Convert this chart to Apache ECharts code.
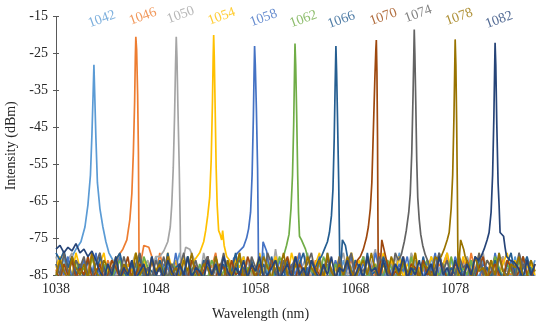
<!DOCTYPE html>
<html>
<head>
<meta charset="utf-8">
<script src="https://cdn.jsdelivr.net/npm/echarts@6/dist/echarts.min.js"></script>
<style>
  html, body { margin: 0; padding: 0; background: #fff; }
  #chart { width: 537px; height: 323px; }
</style>
</head>
<body>
<div id="chart"></div>
<script>
// channel names (nominal wavelength, nm) and Excel-like colours
const channels = ['1042', '1046', '1050', '1054', '1058', '1062', '1066', '1070', '1074', '1078', '1082'];
const colors = ['#5b9bd5', '#ed7d31', '#a5a5a5', '#ffc000', '#4472c4', '#70ad47',
                '#255e91', '#9e480e', '#636363', '#997300', '#264478'];
const xTicks = [1038, 1048, 1058, 1068, 1078];
const yTicks = [-85, -75, -65, -55, -45, -35, -25, -15];

// noise floor, sampled every 0.4 nm from 1038 nm (dBm)
const noiseStart = 1038;
const noiseStep = 0.4;
const n1042 = [-82,-85,-80,-86,-83,-84,-81,-86,-79,-84,-86,-82, -85,-81,-86,-83,-80,-85,-86,-82,-84,-86,-81,-83,
  -86,-80,-84,-85,-82,-86,-83,-79,-85,-86,-81,-84, -83,-86,-80,-85,-82,-84,-86,-81,-83,-85,-86,-80,
  -84,-82,-86,-83,-79,-85,-81,-86,-84,-82,-85,-86, -80,-83,-86,-84,-81,-85,-82,-86,-79,-84,-83,-86,
  -81,-85,-86,-82,-84,-80,-86,-83,-85,-81,-86,-84, -82,-86,-79,-83,-85,-86,-81,-84,-82,-86,-80,-85,
  -83,-86,-84,-81,-85,-82,-86,-80,-84,-83,-86,-81, -85,-82,-86,-79,-84,-83,-86,-80,-85,-82,-86,-84, -81];
const n1046 = [-84,-81,-86,-83,-80,-85,-82,-86,-84,-79,-85,-83, -86,-81,-84,-82,-86,-80,-85,-83,-86,-84,-81,-85,
  -82,-86,-79,-84,-83,-86,-81,-85,-80,-86,-84,-82, -85,-86,-81,-83,-79,-86,-84,-82,-85,-80,-86,-83,
  -81,-85,-86,-82,-84,-80,-86,-83,-85,-81,-84,-86, -82,-79,-85,-83,-86,-81,-84,-86,-80,-85,-82,-84,
  -86,-83,-81,-85,-86,-80,-84,-82,-86,-79,-85,-83, -81,-86,-84,-82,-85,-80,-86,-83,-84,-81,-86,-85,
  -82,-84,-80,-86,-83,-85,-81,-86,-79,-84,-82,-86, -85,-81,-83,-86,-80,-84,-85,-82,-86,-83,-81,-85, -84];
const n1050 = [-80,-84,-86,-81,-79,-85,-83,-86,-80,-84,-82,-79, -86,-83,-81,-85,-80,-84,-86,-82,-79,-85,-83,-81,
  -86,-80,-84,-82,-78,-85,-86,-81,-83,-80,-85,-82, -86,-79,-84,-81,-85,-83,-80,-86,-82,-84,-79,-85,
  -81,-86,-83,-80,-84,-82,-86,-78,-85,-81,-83,-86, -80,-84,-82,-79,-85,-86,-81,-83,-80,-84,-86,-82,
  -79,-85,-83,-81,-86,-80,-84,-82,-78,-85,-86,-81, -83,-80,-85,-84,-86,-79,-82,-85,-81,-86,-83,-80,
  -84,-82,-79,-86,-85,-81,-83,-80,-86,-84,-82,-79, -85,-83,-86,-81,-80,-84,-82,-86,-79,-85,-83,-81, -86];
const n1054 = [-83,-80,-84,-82,-85,-79,-83,-81,-86,-80,-84,-82, -79,-85,-81,-83,-80,-86,-82,-84,-79,-83,-81,-85,
  -80,-84,-82,-86,-79,-83,-81,-84,-80,-85,-82,-79, -84,-81,-86,-80,-83,-82,-85,-79,-84,-81,-83,-80,
  -86,-82,-84,-79,-85,-81,-83,-80,-84,-82,-86,-79, -83,-81,-85,-80,-84,-82,-79,-86,-83,-81,-84,-80,
  -85,-82,-79,-83,-81,-86,-80,-84,-82,-85,-79,-83, -81,-84,-80,-86,-82,-83,-79,-85,-81,-84,-80,-83,
  -86,-82,-79,-84,-81,-85,-80,-83,-82,-86,-79,-84, -81,-83,-80,-85,-82,-79,-84,-81,-86,-80,-83,-82, -85];
const n1058 = [-86,-82,-85,-80,-86,-83,-84,-81,-86,-85,-79,-86, -83,-82,-86,-84,-80,-86,-85,-81,-86,-83,-84,-86,
  -80,-85,-86,-82,-83,-86,-79,-85,-84,-86,-81,-83, -86,-85,-80,-86,-82,-84,-86,-81,-85,-86,-83,-79,
  -86,-84,-82,-86,-80,-85,-83,-86,-81,-84,-86,-82, -85,-79,-86,-83,-84,-86,-80,-85,-82,-86,-81,-84,
  -86,-83,-80,-86,-85,-82,-84,-86,-79,-83,-86,-81, -85,-86,-82,-84,-80,-86,-83,-85,-86,-81,-84,-79,
  -86,-82,-85,-86,-80,-83,-84,-86,-81,-85,-86,-82, -83,-86,-79,-84,-85,-86,-81,-83,-86,-80,-85,-84, -86];
const n1062 = [-85,-86,-82,-84,-86,-81,-85,-83,-86,-80,-84,-86, -82,-85,-86,-83,-81,-86,-84,-85,-82,-86,-80,-83,
  -86,-85,-81,-84,-86,-82,-83,-86,-85,-80,-84,-86, -82,-85,-86,-81,-83,-86,-84,-82,-86,-85,-80,-86,
  -83,-84,-86,-81,-85,-82,-86,-84,-80,-86,-83,-85, -86,-82,-81,-86,-84,-85,-86,-80,-83,-86,-82,-84,
  -86,-81,-85,-86,-83,-80,-86,-84,-82,-86,-85,-81, -83,-86,-84,-82,-86,-80,-85,-86,-83,-81,-86,-84,
  -85,-82,-86,-80,-84,-86,-83,-85,-81,-86,-82,-84, -86,-85,-80,-83,-86,-82,-84,-86,-81,-85,-86,-83, -84];
const n1066 = [-79,-81,-78.5,-83,-80,-85,-82,-86,-81,-84,-86,-80, -83,-86,-85,-81,-79,-84,-86,-82,-85,-80,-86,-83,
  -84,-86,-81,-85,-79,-86,-83,-82,-86,-80,-85,-84, -86,-81,-83,-86,-80,-85,-82,-86,-84,-79,-86,-83,
  -85,-81,-86,-84,-82,-86,-80,-85,-83,-86,-81,-84, -86,-82,-79,-85,-86,-83,-81,-86,-84,-80,-85,-86,
  -82,-84,-86,-81,-83,-86,-79,-85,-84,-86,-80,-83, -86,-82,-85,-81,-86,-84,-83,-86,-80,-85,-82,-86,
  -79,-84,-86,-83,-85,-81,-86,-82,-84,-86,-80,-85, -83,-86,-81,-84,-86,-82,-79,-85,-86,-83,-80,-84, -86];
const n1070 = [-84,-86,-82,-85,-81,-86,-83,-85,-80,-86,-84,-82, -86,-85,-81,-83,-86,-84,-80,-86,-85,-82,-84,-86,
  -81,-85,-83,-86,-80,-84,-86,-82,-85,-86,-81,-83, -86,-84,-80,-85,-86,-82,-83,-86,-81,-85,-84,-86,
  -80,-83,-86,-82,-85,-86,-81,-84,-86,-83,-80,-85, -86,-82,-84,-86,-81,-83,-85,-86,-80,-84,-86,-82,
  -85,-81,-86,-83,-84,-86,-80,-85,-82,-86,-83,-81, -86,-84,-85,-80,-86,-82,-83,-86,-81,-85,-84,-86,
  -80,-83,-86,-85,-82,-84,-86,-81,-85,-86,-83,-80, -86,-84,-82,-85,-86,-81,-83,-86,-84,-80,-85,-86, -82];
const n1074 = [-82,-85,-79,-84,-86,-81,-83,-80,-85,-86,-82,-79, -84,-86,-83,-81,-85,-80,-84,-86,-82,-79,-85,-83,
  -86,-81,-84,-80,-86,-82,-85,-83,-79,-86,-84,-81, -85,-82,-80,-86,-83,-84,-79,-85,-86,-82,-81,-84,
  -86,-80,-83,-85,-86,-79,-82,-84,-86,-81,-85,-83, -80,-86,-84,-82,-79,-85,-86,-83,-81,-84,-86,-80,
  -85,-82,-79,-86,-83,-84,-81,-85,-86,-80,-82,-84, -86,-79,-83,-85,-81,-86,-84,-80,-85,-82,-86,-83,
  -79,-84,-81,-86,-85,-80,-83,-82,-86,-84,-79,-85, -81,-83,-86,-80,-84,-85,-82,-86,-79,-83,-81,-85, -86];
const n1078 = [-85,-81,-84,-86,-80,-83,-85,-82,-86,-79,-84,-86, -81,-83,-85,-80,-86,-82,-84,-86,-79,-85,-83,-86,
  -81,-84,-82,-86,-80,-85,-83,-86,-81,-84,-79,-86, -85,-82,-83,-86,-80,-84,-86,-81,-85,-83,-79,-86,
  -84,-82,-85,-86,-80,-83,-86,-81,-84,-79,-85,-86, -82,-84,-86,-80,-83,-85,-81,-86,-79,-84,-86,-82,
  -85,-80,-84,-86,-83,-81,-85,-79,-84,-86,-82,-85, -80,-83,-86,-81,-84,-85,-79,-86,-82,-83,-86,-80,
  -85,-84,-81,-86,-83,-79,-85,-82,-86,-80,-84,-83, -86,-81,-85,-79,-84,-86,-82,-83,-80,-86,-85,-81, -84];
const n1082 = [-78,-77,-79,-77.5,-78.5,-76.5,-79,-78,-80,-78.5,-81,-84, -86,-82,-85,-80,-86,-83,-85,-81,-86,-84,-82,-86,
  -80,-85,-83,-86,-81,-84,-86,-82,-85,-80,-86,-83, -84,-86,-81,-85,-82,-86,-80,-84,-86,-83,-85,-81,
  -86,-82,-84,-80,-86,-85,-83,-81,-86,-84,-82,-86, -80,-85,-83,-86,-81,-84,-86,-82,-85,-80,-86,-83,
  -84,-81,-86,-85,-82,-86,-80,-84,-83,-86,-81,-85, -86,-82,-84,-80,-86,-83,-85,-81,-86,-84,-82,-86,
  -80,-85,-83,-86,-81,-84,-86,-82,-85,-80,-86,-83, -84,-86,-81,-85,-82,-86,-80,-84,-83,-86,-81,-85, -82];

// laser lines: [wavelength nm, dBm]
const p1042 = [[1039.6,-80],[1040.0,-78],[1040.5,-76],[1040.9,-72],[1041.2,-66],[1041.45,-58],[1041.6,-47],
  [1041.72,-36],[1041.8,-28.1],[1041.88,-36],[1042.0,-48],[1042.15,-60],[1042.4,-67],[1042.7,-72],
  [1043.0,-76],[1043.3,-79],[1043.7,-81]];
const p1046 = [[1044.2,-80],[1044.7,-78],[1045.1,-75.5],[1045.4,-70],[1045.6,-63],[1045.75,-52],[1045.88,-38],
  [1045.95,-26],[1046.0,-20.5],[1046.08,-24],[1046.18,-36],[1046.26,-52],[1046.3,-70],[1046.33,-86],
  [1046.6,-80],[1046.8,-77],[1047.3,-77.5],[1047.6,-80]];
const p1050 = [[1048.4,-80],[1048.8,-78.5],[1049.2,-76],[1049.45,-72],[1049.6,-66],[1049.75,-56],[1049.88,-42],
  [1049.98,-28],[1050.05,-20.5],[1050.12,-26],[1050.22,-40],[1050.35,-56],[1050.45,-72],[1050.5,-86],
  [1050.8,-80],[1051.0,-77.5],[1051.4,-78],[1051.8,-80.5]];
const p1054 = [[1052.0,-80.5],[1052.4,-79],[1052.8,-76],[1053.0,-73],[1053.2,-69],[1053.4,-64],[1053.55,-54],
  [1053.68,-38],[1053.75,-26],[1053.8,-20],[1053.86,-26],[1053.95,-40],[1054.05,-56],[1054.15,-66],
  [1054.3,-73],[1054.45,-74],[1054.6,-75.5],[1054.7,-73],[1054.85,-77],[1055.1,-80],[1055.4,-81]];
const p1058 = [[1055.8,-80.5],[1056.2,-79],[1056.8,-77.3],[1057.1,-75],[1057.3,-72.5],[1057.5,-68],[1057.65,-58],
  [1057.78,-42],[1057.85,-30],[1057.9,-23],[1057.97,-28],[1058.08,-40],[1058.2,-56],[1058.26,-72],
  [1058.3,-86],[1058.6,-84],[1058.75,-76],[1058.9,-76],[1059.1,-78.5],[1059.4,-84]];
const p1062 = [[1060.5,-81],[1060.8,-80],[1061.1,-77],[1061.35,-74],[1061.55,-67],[1061.7,-58],[1061.82,-44],
  [1061.9,-30],[1061.95,-22.3],[1062.02,-28],[1062.12,-42],[1062.22,-58],[1062.3,-68],[1062.4,-74.5],
  [1062.6,-75.5],[1062.8,-76],[1063.0,-78],[1063.25,-80.5],[1063.5,-82]];
const p1066 = [[1064.3,-81],[1064.6,-80],[1064.9,-78],[1065.2,-76],[1065.4,-73.5],[1065.6,-69],[1065.75,-62],
  [1065.88,-48],[1065.97,-34],[1066.05,-23],[1066.12,-30],[1066.22,-44],[1066.33,-60],[1066.4,-74],
  [1066.45,-86],[1066.6,-80],[1066.7,-75.5],[1066.85,-75],[1067.0,-77],[1067.2,-80],[1067.5,-83]];
const p1070 = [[1068.2,-81],[1068.5,-80],[1068.8,-78],[1069.1,-75],[1069.3,-72],[1069.5,-67],[1069.65,-60],
  [1069.8,-46],[1069.95,-32],[1070.05,-24],[1070.1,-21.4],[1070.16,-30],[1070.22,-48],[1070.26,-70],
  [1070.3,-86],[1070.55,-80],[1070.65,-75.5],[1070.8,-76],[1070.95,-79],[1071.2,-82]];
const p1074 = [[1072.3,-81],[1072.6,-79.5],[1072.9,-76],[1073.1,-73],[1073.35,-68],[1073.5,-63],[1073.65,-52],
  [1073.78,-36],[1073.85,-26],[1073.9,-18.5],[1073.96,-25],[1074.05,-38],[1074.15,-54],[1074.25,-64],
  [1074.4,-70],[1074.55,-74],[1074.75,-77],[1075.0,-79.5],[1075.3,-81.5]];
const p1078 = [[1076.3,-81],[1076.6,-80],[1076.9,-78],[1077.2,-75.5],[1077.4,-73.5],[1077.6,-67],[1077.75,-58],
  [1077.88,-42],[1077.95,-30],[1078.0,-21.2],[1078.07,-28],[1078.15,-44],[1078.22,-62],[1078.26,-76],
  [1078.3,-86],[1078.45,-79],[1078.55,-75.5],[1078.7,-76],[1078.85,-78],[1079.0,-80],[1079.3,-82]];
const p1082 = [[1080.3,-81],[1080.6,-80],[1080.9,-78],[1081.2,-75.5],[1081.4,-73.5],[1081.6,-68],[1081.75,-58],
  [1081.88,-42],[1081.95,-30],[1082.0,-22.1],[1082.07,-28],[1082.17,-44],[1082.3,-60],[1082.4,-66],
  [1082.5,-73.5],[1082.65,-73],[1082.85,-74.5],[1083.0,-77.5],[1083.15,-80],[1083.5,-81],[1083.9,-81.5],[1084.3,-83]];

// where the channel labels sit: [wavelength, dBm]
const labelPos = [[1042.6,-15.7],[1046.7,-15.0],[1050.5,-14.6],[1054.6,-15.0],[1058.8,-15.4],[1062.8,-15.7],
  [1066.6,-15.9],[1070.8,-15.1],[1074.3,-14.3],[1078.4,-15.1],[1082.4,-15.9]];

const noiseSets = [n1042, n1046, n1050, n1054, n1058, n1062, n1066, n1070, n1074, n1078, n1082];
const peakSets = [p1042, p1046, p1050, p1054, p1058, p1062, p1066, p1070, p1074, p1078, p1082];

// noise outside the line's span + the line itself, in wavelength order
function buildTrace(noiseVals, peakPts) {
  const lo = peakPts[0][0];
  const hi = peakPts[peakPts.length - 1][0];
  const pts = [];
  noiseVals.forEach((v, i) => {
    const x = +(noiseStart + i * noiseStep).toFixed(2);
    if (x < lo || x > hi) pts.push([x, v]);
  });
  return pts.concat(peakPts).sort((a, b) => a[0] - b[0]);
}

const FONT = 'Liberation Serif';
const TEXT = '#262626';
const chart = echarts.init(document.getElementById('chart'), null, { renderer: 'canvas' });

const lineSeries = channels.map((name, i) => ({
  name: name,
  type: 'line',
  data: buildTrace(noiseSets[i], peakSets[i]),
  showSymbol: false,
  symbol: 'none',
  lineStyle: { color: colors[i], width: 1.7 },
  itemStyle: { color: colors[i] },
  clip: true,
  animation: false
}));

const labelSeries = {
  type: 'scatter',
  symbolSize: 0,
  clip: false,
  silent: true,
  animation: false,
  data: channels.map((name, i) => ({
    value: labelPos[i],
    name: name,
    label: { color: colors[i] }
  })),
  label: {
    show: true,
    position: 'inside',
    formatter: p => p.name,
    rotate: 20,
    fontFamily: FONT,
    fontSize: 14
  }
};

const yBase = {
  type: 'value',
  min: yTicks[0],
  max: yTicks[yTicks.length - 1],
  interval: 10,
  position: 'left',
  splitLine: { show: false }
};

const option = {
  animation: false,
  backgroundColor: '#fff',
  grid: { left: 56, right: 2, top: 16.5, bottom: 48, containLabel: false, outerBoundsMode: 'none' },
  xAxis: {
    type: 'value',
    min: xTicks[0],
    max: 1086,
    interval: 10,
    name: 'Wavelength (nm)',
    nameLocation: 'middle',
    nameGap: 32,
    nameTextStyle: { fontFamily: FONT, fontSize: 14, color: TEXT, padding: [0, 70, 0, 0] },
    axisLine: { show: true, lineStyle: { color: '#7f7f7f' } },
    axisTick: { show: false },
    splitLine: { show: false },
    axisLabel: {
      fontFamily: FONT, fontSize: 14, color: TEXT, margin: 7,
      showMaxLabel: false,
      formatter: v => (xTicks.indexOf(v) >= 0 ? String(v) : '')
    }
  },
  yAxis: [
    Object.assign({}, yBase, {
      name: 'Intensity (dBm)',
      nameLocation: 'middle',
      nameGap: 36,
      nameTextStyle: { fontFamily: FONT, fontSize: 14, color: TEXT },
      axisLine: { show: true, lineStyle: { color: '#595959' } },
      axisTick: { show: true, inside: true, length: 3, lineStyle: { color: '#595959' } },
      axisLabel: { fontFamily: FONT, fontSize: 14, color: TEXT, margin: 8 }
    }),
    // second copy only to draw the outer half of the crossing ticks
    Object.assign({}, yBase, {
      axisLine: { show: false },
      axisTick: { show: true, inside: false, length: 3, lineStyle: { color: '#595959' } },
      axisLabel: { show: false }
    })
  ],
  series: lineSeries.concat([labelSeries])
};

chart.setOption(option);
</script>
</body>
</html>
